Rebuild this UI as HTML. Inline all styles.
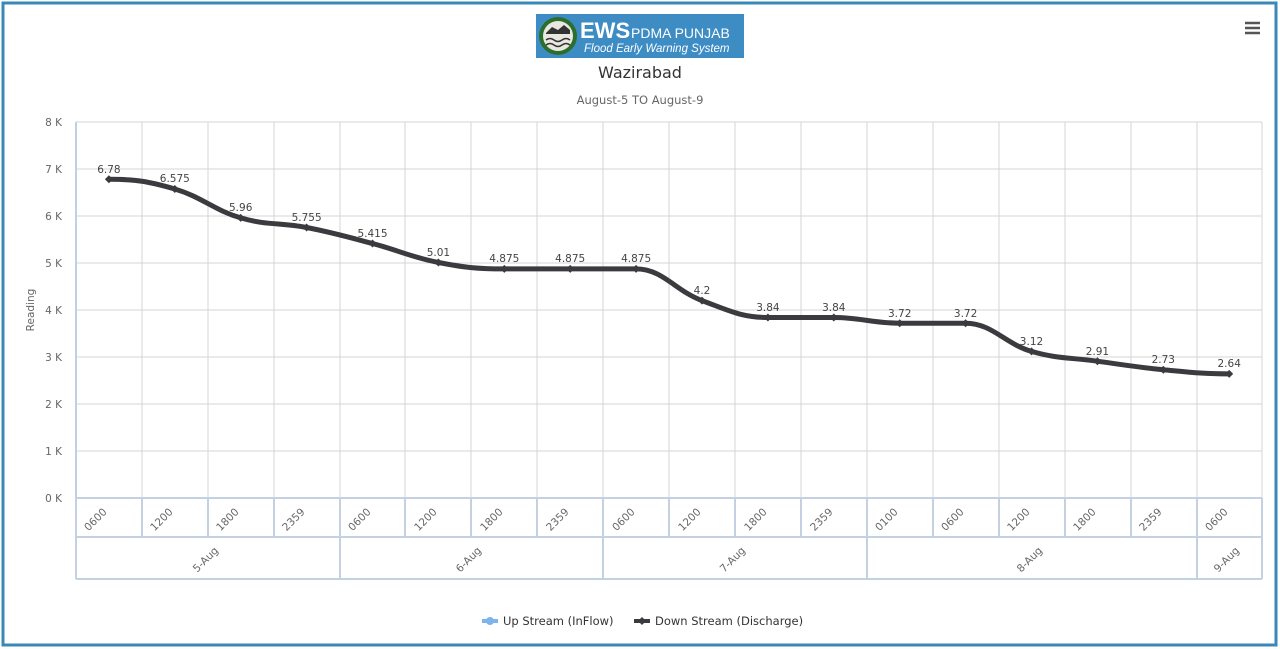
<!DOCTYPE html>
<html><head><meta charset="utf-8"><style>
body{margin:0;background:#fff;}
svg{display:block;font-family:"DejaVu Sans","Liberation Sans",sans-serif;}
.lg{font-family:"Liberation Sans",sans-serif;}
</style></head><body>
<svg width="1280" height="649" viewBox="0 0 1280 649" xmlns="http://www.w3.org/2000/svg">
<rect x="3" y="3" width="1273" height="642" fill="#fff" stroke="#3a88b8" stroke-width="3"/>
<!-- logo -->
<rect x="536" y="14" width="208" height="44" fill="#3d8cc4"/>
<circle cx="558" cy="36" r="19" fill="#2c6e2c"/>
<circle cx="558" cy="36" r="15" fill="#e8e8e0"/>
<path d="M546 40 q4 -3 8 0 q4 3 8 0 q4 -3 8 0 M546 45 q4 -3 8 0 q4 3 8 0 q4 -3 8 0" stroke="#333" stroke-width="1.5" fill="none"/>
<path d="M546 33 l6 -6 l6 3 l6 -5 l6 5 v4 h-24z" fill="#333"/>
<text class="lg" x="580" y="38" font-size="22" font-weight="bold" fill="#fff">EWS</text>
<text class="lg" x="631" y="38" font-size="14" fill="#fff">PDMA PUNJAB</text>
<text class="lg" x="584" y="52" font-size="11.5" font-style="italic" fill="#fff">Flood Early Warning System</text>
<text x="640" y="78" font-size="16" fill="#333" text-anchor="middle">Wazirabad</text>
<text x="640" y="104" font-size="11.5" fill="#666" text-anchor="middle">August-5 TO August-9</text>
<!-- menu -->
<g stroke="#555" stroke-width="2.5"><line x1="1245" y1="23" x2="1260" y2="23"/><line x1="1245" y1="28" x2="1260" y2="28"/><line x1="1245" y1="33" x2="1260" y2="33"/></g>
<!-- grid -->
<g stroke="#d4d4d4" stroke-width="1">
<line x1="76" y1="122" x2="1262" y2="122"/><line x1="76" y1="169" x2="1262" y2="169"/><line x1="76" y1="216" x2="1262" y2="216"/><line x1="76" y1="263" x2="1262" y2="263"/><line x1="76" y1="310" x2="1262" y2="310"/><line x1="76" y1="357" x2="1262" y2="357"/><line x1="76" y1="404" x2="1262" y2="404"/><line x1="76" y1="451" x2="1262" y2="451"/><line x1="76" y1="498" x2="1262" y2="498"/>
<line x1="142" y1="122" x2="142" y2="498"/><line x1="208" y1="122" x2="208" y2="498"/><line x1="274" y1="122" x2="274" y2="498"/><line x1="340" y1="122" x2="340" y2="498"/><line x1="405" y1="122" x2="405" y2="498"/><line x1="471" y1="122" x2="471" y2="498"/><line x1="537" y1="122" x2="537" y2="498"/><line x1="603" y1="122" x2="603" y2="498"/><line x1="669" y1="122" x2="669" y2="498"/><line x1="735" y1="122" x2="735" y2="498"/><line x1="801" y1="122" x2="801" y2="498"/><line x1="867" y1="122" x2="867" y2="498"/><line x1="933" y1="122" x2="933" y2="498"/><line x1="999" y1="122" x2="999" y2="498"/><line x1="1065" y1="122" x2="1065" y2="498"/><line x1="1131" y1="122" x2="1131" y2="498"/><line x1="1197" y1="122" x2="1197" y2="498"/><line x1="1262" y1="122" x2="1262" y2="498"/>
</g>
<line x1="76" y1="122" x2="76" y2="498" stroke="#c0d0e0" stroke-width="2"/>
<!-- x axis boxes -->
<g stroke="#c3d1e2" stroke-width="2">
<line x1="76" y1="498" x2="1262" y2="498"/><line x1="76" y1="537" x2="1262" y2="537"/><line x1="76" y1="579" x2="1262" y2="579"/>
<line x1="76" y1="498" x2="76" y2="579"/><line x1="340" y1="498" x2="340" y2="579"/><line x1="603" y1="498" x2="603" y2="579"/><line x1="867" y1="498" x2="867" y2="579"/><line x1="1197" y1="498" x2="1197" y2="579"/><line x1="1262" y1="498" x2="1262" y2="579"/>
<line x1="142" y1="498" x2="142" y2="537"/><line x1="208" y1="498" x2="208" y2="537"/><line x1="274" y1="498" x2="274" y2="537"/><line x1="405" y1="498" x2="405" y2="537"/><line x1="471" y1="498" x2="471" y2="537"/><line x1="537" y1="498" x2="537" y2="537"/><line x1="669" y1="498" x2="669" y2="537"/><line x1="735" y1="498" x2="735" y2="537"/><line x1="801" y1="498" x2="801" y2="537"/><line x1="933" y1="498" x2="933" y2="537"/><line x1="999" y1="498" x2="999" y2="537"/><line x1="1065" y1="498" x2="1065" y2="537"/><line x1="1131" y1="498" x2="1131" y2="537"/>
</g>
<!-- y labels -->
<g font-size="10.5" fill="#666" text-anchor="end">
<text x="62" y="126">8 K</text><text x="62" y="173">7 K</text><text x="62" y="220">6 K</text><text x="62" y="267">5 K</text><text x="62" y="314">4 K</text><text x="62" y="361">3 K</text><text x="62" y="408">2 K</text><text x="62" y="455">1 K</text><text x="62" y="502">0 K</text>
</g>
<text x="34" y="310" font-size="10.5" fill="#666" text-anchor="middle" transform="rotate(-90 34 310)">Reading</text>
<!-- tick labels -->
<g font-size="10.5" fill="#666" text-anchor="middle">
<text transform="translate(98,522) rotate(-45)">0600</text>
<text transform="translate(164,522) rotate(-45)">1200</text>
<text transform="translate(230,522) rotate(-45)">1800</text>
<text transform="translate(296,522) rotate(-45)">2359</text>
<text transform="translate(362,522) rotate(-45)">0600</text>
<text transform="translate(428,522) rotate(-45)">1200</text>
<text transform="translate(494,522) rotate(-45)">1800</text>
<text transform="translate(560,522) rotate(-45)">2359</text>
<text transform="translate(626,522) rotate(-45)">0600</text>
<text transform="translate(692,522) rotate(-45)">1200</text>
<text transform="translate(758,522) rotate(-45)">1800</text>
<text transform="translate(824,522) rotate(-45)">2359</text>
<text transform="translate(889,522) rotate(-45)">0100</text>
<text transform="translate(955,522) rotate(-45)">0600</text>
<text transform="translate(1021,522) rotate(-45)">1200</text>
<text transform="translate(1087,522) rotate(-45)">1800</text>
<text transform="translate(1153,522) rotate(-45)">2359</text>
<text transform="translate(1219,522) rotate(-45)">0600</text>
<text transform="translate(208,562) rotate(-45)">5-Aug</text>
<text transform="translate(471,562) rotate(-45)">6-Aug</text>
<text transform="translate(735,562) rotate(-45)">7-Aug</text>
<text transform="translate(1032,562) rotate(-45)">8-Aug</text>
<text transform="translate(1229,562) rotate(-45)">9-Aug</text>
</g>
<!-- series -->
<path d="M108.9 179.3 C135.3 179.3 148.4 181.3 174.8 189.0 C201.2 196.7 214.3 210.2 240.7 217.9 C267.1 225.6 280.2 222.4 306.6 227.5 C333.0 232.6 346.1 236.5 372.5 243.5 C398.9 250.5 412.0 257.4 438.4 262.5 C464.8 267.6 477.9 268.9 504.3 268.9 C530.7 268.9 543.8 268.9 570.2 268.9 C596.6 268.9 609.7 268.9 636.1 268.9 C662.5 268.9 675.6 290.9 702.0 300.6 C728.4 310.3 741.5 317.5 767.9 317.5 C794.3 317.5 807.4 317.5 833.8 317.5 C860.2 317.5 873.3 323.2 899.7 323.2 C926.1 323.2 939.2 323.2 965.6 323.2 C992.0 323.2 1005.1 343.8 1031.5 351.4 C1057.9 359.0 1071.0 357.5 1097.4 361.2 C1123.8 364.9 1136.9 367.2 1163.3 369.7 C1189.7 372.2 1202.8 373.9 1229.2 373.9" fill="none" stroke="#3b3b3f" stroke-width="5" stroke-linecap="round"/>
<g fill="#3b3b3f">
<path d="M104.9 179.3l4 -4 4 4 -4 4z"/><path d="M170.8 189l4 -4 4 4 -4 4z"/><path d="M236.7 217.9l4 -4 4 4 -4 4z"/><path d="M302.6 227.5l4 -4 4 4 -4 4z"/><path d="M368.5 243.5l4 -4 4 4 -4 4z"/><path d="M434.4 262.5l4 -4 4 4 -4 4z"/><path d="M500.3 268.9l4 -4 4 4 -4 4z"/><path d="M566.2 268.9l4 -4 4 4 -4 4z"/><path d="M632.1 268.9l4 -4 4 4 -4 4z"/><path d="M698 300.6l4 -4 4 4 -4 4z"/><path d="M763.9 317.5l4 -4 4 4 -4 4z"/><path d="M829.8 317.5l4 -4 4 4 -4 4z"/><path d="M895.7 323.2l4 -4 4 4 -4 4z"/><path d="M961.6 323.2l4 -4 4 4 -4 4z"/><path d="M1027.5 351.4l4 -4 4 4 -4 4z"/><path d="M1093.4 361.2l4 -4 4 4 -4 4z"/><path d="M1159.3 369.7l4 -4 4 4 -4 4z"/><path d="M1225.2 373.9l4 -4 4 4 -4 4z"/>
</g>
<g font-size="10.5" fill="#444" text-anchor="middle">
<text x="108.9" y="173">6.78</text><text x="174.8" y="182">6.575</text><text x="240.7" y="211">5.96</text><text x="306.6" y="221">5.755</text><text x="372.5" y="237">5.415</text><text x="438.4" y="256">5.01</text><text x="504.3" y="262">4.875</text><text x="570.2" y="262">4.875</text><text x="636.1" y="262">4.875</text><text x="702" y="294">4.2</text><text x="767.9" y="311">3.84</text><text x="833.8" y="311">3.84</text><text x="899.7" y="317">3.72</text><text x="965.6" y="317">3.72</text><text x="1031.5" y="345">3.12</text><text x="1097.4" y="355">2.91</text><text x="1163.3" y="363">2.73</text><text x="1229.2" y="367">2.64</text>
</g>
<!-- legend -->
<line x1="482" y1="621" x2="498" y2="621" stroke="#7cb5ec" stroke-width="4"/><circle cx="490" cy="621" r="4" fill="#7cb5ec"/>
<text x="503" y="625" font-size="11.5" fill="#333">Up Stream (InFlow)</text>
<line x1="634" y1="621" x2="650" y2="621" stroke="#3b3b3f" stroke-width="4"/><path d="M638 621l4 -4 4 4 -4 4z" fill="#3b3b3f"/>
<text x="655" y="625" font-size="11.5" fill="#333">Down Stream (Discharge)</text>
</svg>
</body></html>
